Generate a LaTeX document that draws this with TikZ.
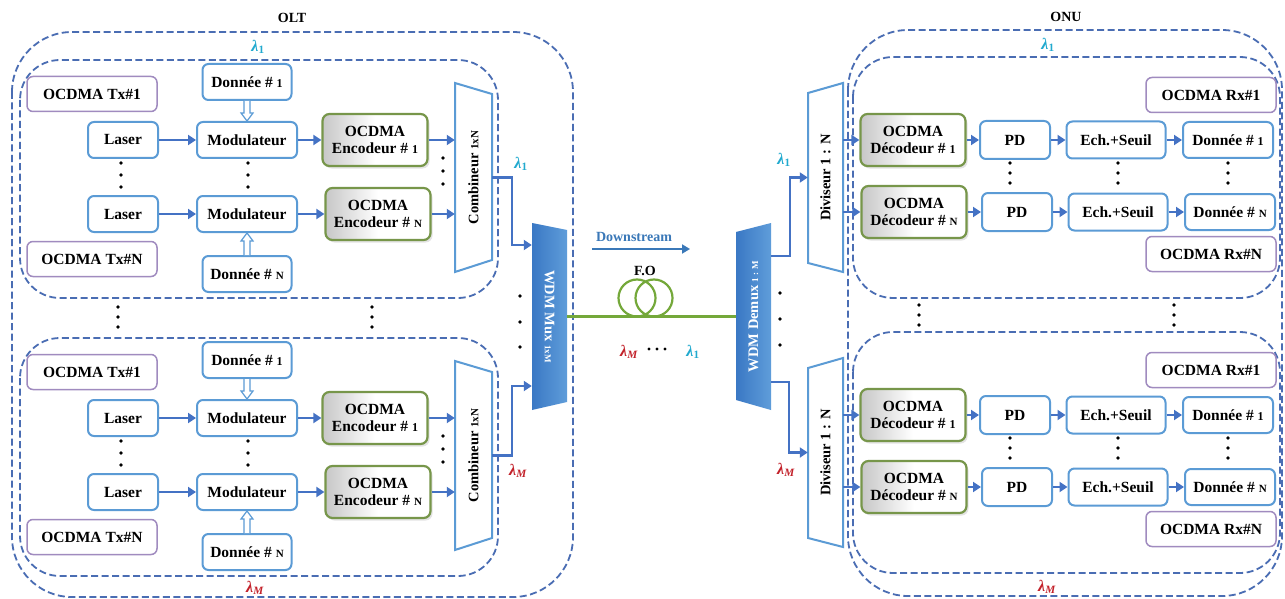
\documentclass[tikz,border=0pt]{standalone}
\usepackage{fontspec}
\setmainfont{Liberation Serif}
\usetikzlibrary{arrows.meta,calc,shadows}
\definecolor{boxblue}{HTML}{5B9BD5}
\definecolor{arrblue}{HTML}{4472C4}
\definecolor{dashblue}{HTML}{4A6DB3}
\definecolor{boxpurple}{HTML}{A08BBF}
\definecolor{boxgreen}{HTML}{77964A}
\definecolor{fibgreen}{HTML}{74A83A}
\definecolor{lamcyan}{HTML}{22AACF}
\definecolor{lamred}{HTML}{C3222B}
\definecolor{muxdark}{HTML}{3A78C4}
\definecolor{muxlight}{HTML}{5F9DDA}
\definecolor{dstream}{HTML}{3A78B8}
\begin{document}
\begin{tikzpicture}[x=1pt,y=-1pt,
  base/.style={font=\fontsize{15.5}{17.5}\selectfont\bfseries, align=center, inner sep=1pt},
  bbox/.style={base, draw=boxblue, line width=2pt, rounded corners=6pt, fill=white},
  pbox/.style={base, draw=boxpurple, line width=1.5pt, rounded corners=6pt, fill=white,
               minimum width=130, minimum height=35},
  gbox/.style={base, draw=boxgreen, line width=2.2pt, rounded corners=7pt,
               left color=black!22, right color=white, middle color=white,
               minimum width=105, minimum height=52,
               drop shadow={opacity=0.22, shadow xshift=2pt, shadow yshift=-2.5pt}},
  arr/.style={draw=arrblue, line width=2.2pt, -{Triangle[length=8pt,width=10pt]}},
  hol/.style={draw=boxblue, line width=1.2pt, fill=white},
  grp/.style={draw=dashblue, line width=1.8pt, dash pattern=on 7pt off 3.5pt},
  trap/.style={draw=boxblue, line width=2pt, fill=white},
  inbox/.style={inner sep=0pt, font=\fontsize{14.5}{16}\selectfont\bfseries},
  lam/.style={inner sep=0pt, font=\fontsize{16}{18}\selectfont\bfseries\itshape},
  ttl/.style={inner sep=0pt, font=\fontsize{14}{16}\selectfont\bfseries},
  dot/.style={fill=black}
]
\fill[white] (0,0) rectangle (1285,599);
\useasboundingbox (0,0) rectangle (1285,599);

% ---------- OLT side ----------
\draw[grp, rounded corners=60pt] (12,32) rectangle (573,597);
\node[ttl] (olt) at (292,18) {OLT};
\node[lam, text=lamcyan] (olam1) at (258,47) {λ\textsubscript{\upshape 1}};
\node[lam, text=lamred] (olamM) at (255,588) {λ\textsubscript{M}};

\foreach \dy/\s in {0/a,278/b}{
  \draw[grp, rounded corners=40pt] (20,60+\dy) rectangle (498,298+\dy);
  \node[pbox] (tx1\s) at (92,94+\dy) {OCDMA Tx\#1};
  \node[pbox] (txN\s) at (92,259+\dy) {OCDMA Tx\#N};
  \node[bbox, minimum width=89, minimum height=36] (don1\s) at (247,82+\dy) {Donnée \# {\fontsize{12}{14}\selectfont 1}};
  \node[bbox, minimum width=89, minimum height=36] (donN\s) at (247,274+\dy) {Donnée \# {\fontsize{11}{14}\selectfont N}};
  \node[bbox, minimum width=70, minimum height=36] (las1\s) at (123,140+\dy) {Laser};
  \node[bbox, minimum width=70, minimum height=36] (las2\s) at (123,214+\dy) {Laser};
  \node[bbox, minimum width=100, minimum height=36] (mod1\s) at (247,140+\dy) {Modulateur};
  \node[bbox, minimum width=100, minimum height=36] (mod2\s) at (247,214+\dy) {Modulateur};
  \node[gbox] (enc1\s) at (375,140+\dy) {OCDMA\\Encodeur \# {\fontsize{12}{14}\selectfont 1}};
  \node[gbox] (encN\s) at (378,214+\dy) {OCDMA\\Encodeur \# {\fontsize{11}{14}\selectfont N}};
  % combiner
  \draw[trap] (455,83+\dy) -- (492,94+\dy) -- (492,260+\dy) -- (455,272+\dy) -- cycle;
  \node[inbox, minimum width=37, minimum height=189] (comb\s) at (473.5,177.5+\dy)
    {\rotatebox{90}{Combineur {\fontsize{11}{12}\selectfont 1xN}}};
  % connectors
  \draw[arr] (las1\s) -- (mod1\s);
  \draw[arr] (las2\s) -- (mod2\s);
  \draw[arr] (mod1\s) -- (enc1\s);
  \draw[arr] (mod2\s) -- (encN\s);
  \draw[arr] (enc1\s.east) -- (enc1\s.east -| comb\s.west);
  \draw[arr] (encN\s.east) -- (encN\s.east -| comb\s.west);
  \draw[hol] ($(don1\s.south)+(-3,0)$) -- ($(mod1\s.north)+(-3,-8)$) -- ++(-3,0)
     -- (mod1\s.north) -- ++(6,-8) -- ++(-3,0) -- ($(don1\s.south)+(3,0)$);
  \draw[hol] ($(donN\s.north)+(-3,0)$) -- ($(mod2\s.south)+(-3,8)$) -- ++(-3,0)
     -- (mod2\s.south) -- ++(6,8) -- ++(-3,0) -- ($(donN\s.north)+(3,0)$);
  % ellipsis dots
  \foreach \yy in {163,175,187}{
    \fill[dot] (121,\yy+\dy) circle[radius=1.9];
    \fill[dot] (248,\yy+\dy) circle[radius=1.9];
  }
  \foreach \yy in {158,171,184}{
    \fill[dot] (443,\yy+\dy) circle[radius=1.9];
  }
}
\foreach \yy in {307,317,327}{
  \fill[dot] (118,\yy) circle[radius=1.9];
  \fill[dot] (372,\yy) circle[radius=1.9];
}

% ---------- WDM multiplexer ----------
\shade[left color=muxdark, right color=muxlight] (532,223) -- (567,230) -- (567,402) -- (532,410) -- cycle;
\node[inbox, text=white, minimum width=35, minimum height=187] (mux) at (549.5,316.5)
  {\rotatebox{-90}{WDM Mux {\fontsize{9}{11}\selectfont 1xM}}};
\draw[arr] (comba.east) -- ++(20,0) |- ($(mux.west)+(0,-71.5)$);
\draw[arr] (combb.east) -- ++(20,0) |- ($(mux.west)+(0,69.5)$);
\node[lam, text=lamcyan] (mlam1) at (521,164) {λ\textsubscript{\upshape 1}};
\node[lam, text=lamred] (mlamM) at (518,471) {λ\textsubscript{M}};
\foreach \yy in {296,322,347}{\fill[dot] (520,\yy) circle[radius=1.9];}

% ---------- fibre link ----------
\shade[left color=muxdark, right color=muxlight] (736,232) -- (771,223) -- (771,410) -- (736,400) -- cycle;
\node[inbox, text=white, minimum width=35, minimum height=187] (demux) at (753.5,316.5)
  {\rotatebox{90}{WDM Demux {\fontsize{9}{11}\selectfont 1 : M}}};
\draw[fibgreen, line width=2.2pt] (mux.east) -- (demux.west);
\draw[fibgreen, line width=2.2pt] (637,298) circle[radius=18.5];
\draw[fibgreen, line width=2.2pt] (654,298) circle[radius=18.5];
\node[ttl] (fo) at (645,271) {F.O};
\node[ttl, text=dstream] (dsl) at (634,237) {Downstream};
\coordinate (dsa) at (592,249);
\coordinate (dsb) at (690,249);
\draw[draw=dstream, line width=1.8pt, -{Triangle[length=8pt,width=9pt]}] (dsa) -- (dsb);
\node[lam, text=lamred] (flamM) at (629,352) {λ\textsubscript{M}};
\foreach \xx in {649,657,665}{\fill[dot] (\xx,349) circle[radius=1.7];}
\node[lam, text=lamcyan] (flam1) at (693,352) {λ\textsubscript{\upshape 1}};
\foreach \yy in {293,319,345}{\fill[dot] (780,\yy) circle[radius=1.9];}

% ---------- ONU side ----------
\draw[grp, rounded corners=60pt] (848,30) rectangle (1282,596);
\node[ttl] (onu) at (1066,17) {ONU};
\node[lam, text=lamcyan] (ulam1) at (1048,45) {λ\textsubscript{\upshape 1}};
\node[lam, text=lamred] (ulamM) at (1047,587) {λ\textsubscript{M}};

\foreach \dy/\s in {0/a,275/b}{
  \draw[grp, rounded corners=40pt] (853,57+\dy) rectangle (1280,298+\dy);
  \draw[trap] (808,93+\dy) -- (843,83+\dy) -- (843,272+\dy) -- (808,263+\dy) -- cycle;
  \node[inbox, minimum width=35, minimum height=189] (div\s) at (825.5,177.5+\dy)
    {\rotatebox{90}{Diviseur 1 : N}};
  \node[gbox] (dec1\s) at (913,140+\dy) {OCDMA\\Décodeur \# {\fontsize{12}{14}\selectfont 1}};
  \node[gbox] (decN\s) at (914,212+\dy) {OCDMA\\Décodeur \# {\fontsize{11}{14}\selectfont N}};
  \node[bbox, minimum width=70, minimum height=38] (pd1\s) at (1015,140+\dy) {PD};
  \node[bbox, minimum width=70, minimum height=38] (pd2\s) at (1017,212+\dy) {PD};
  \node[bbox, minimum width=99, minimum height=37] (ech1\s) at (1116,140+\dy) {Ech.+Seuil};
  \node[bbox, minimum width=99, minimum height=37] (ech2\s) at (1118,212+\dy) {Ech.+Seuil};
  \node[bbox, minimum width=90, minimum height=36] (dr1\s) at (1228,140+\dy) {Donnée \# {\fontsize{12}{14}\selectfont 1}};
  \node[bbox, minimum width=90, minimum height=36] (drN\s) at (1230,212+\dy) {Donnée \# {\fontsize{11}{14}\selectfont N}};
  \node[pbox] (rx1\s) at (1211,95+\dy) {OCDMA Rx\#1};
  \node[pbox] (rxN\s) at (1211,254+\dy) {OCDMA Rx\#N};
  \draw[arr] (dec1\s.west -| div\s.east) -- (dec1\s.west);
  \draw[arr] (decN\s.west -| div\s.east) -- (decN\s.west);
  \draw[arr] (dec1\s) -- (pd1\s);
  \draw[arr] (decN\s) -- (pd2\s);
  \draw[arr] (pd1\s) -- (ech1\s);
  \draw[arr] (pd2\s) -- (ech2\s);
  \draw[arr] (ech1\s) -- (dr1\s);
  \draw[arr] (ech2\s) -- (drN\s);
  \foreach \yy in {163,173,183}{
    \fill[dot] (1010,\yy+\dy) circle[radius=1.9];
    \fill[dot] (1118,\yy+\dy) circle[radius=1.9];
    \fill[dot] (1228,\yy+\dy) circle[radius=1.9];
  }
}
\foreach \yy in {305,315,325}{
  \fill[dot] (919,\yy) circle[radius=1.9];
  \fill[dot] (1174,\yy) circle[radius=1.9];
}

% ---------- demultiplexer outputs ----------
\draw[arr] ($(demux.east)+(0,-60.5)$) -- ++(19,0) |- (diva.west);
\draw[arr] ($(demux.east)+(0,65.5)$) -- ++(18,0) |- (divb.west);
\node[lam, text=lamcyan] (dlam1) at (784,160) {λ\textsubscript{\upshape 1}};
\node[lam, text=lamred] (dlamM) at (786,470) {λ\textsubscript{M}};
\end{tikzpicture}
\end{document}
